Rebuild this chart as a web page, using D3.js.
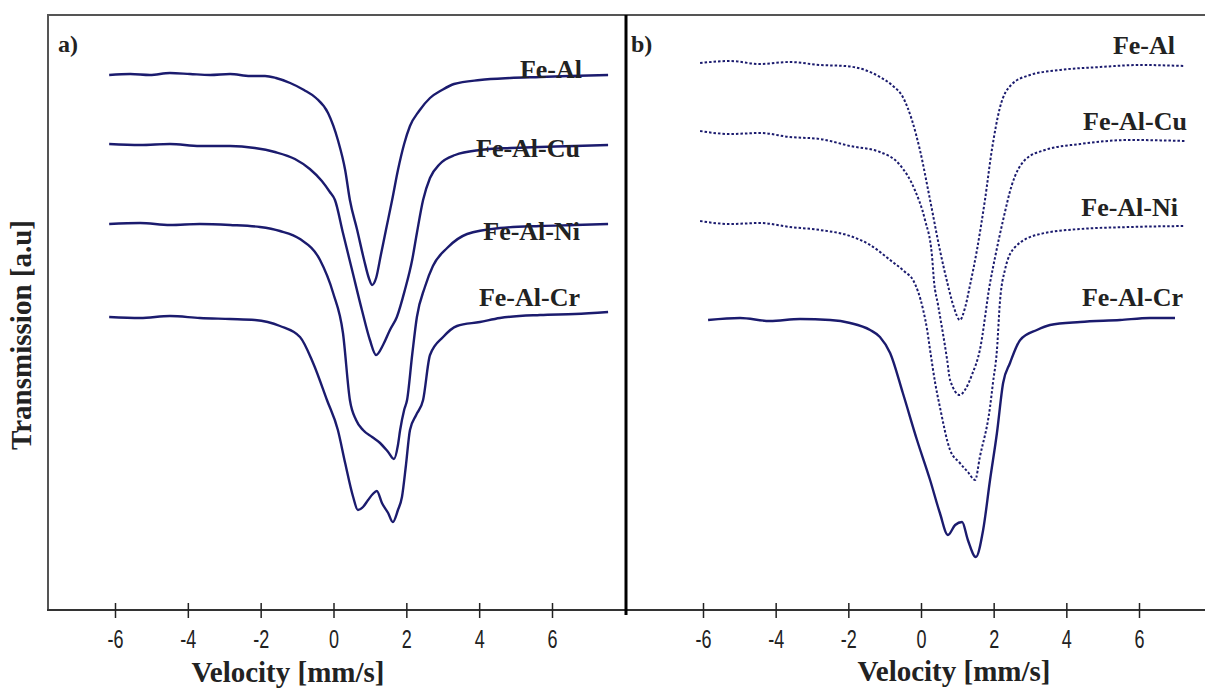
<!DOCTYPE html>
<html>
<head>
<meta charset="utf-8">
<script src="https://cdn.jsdelivr.net/npm/d3@7"></script>
<style>
  body { margin: 0; background: #fff; }
  text { font-family: "Liberation Serif", "Times New Roman", serif; }
</style>
</head>
<body>
<script>
// velocity (mm/s) / transmission (a.u.)
const tickVals = [-6, -4, -2, 0, 2, 4, 6];
const seriesNames = ["Fe-Al", "Fe-Al-Cu", "Fe-Al-Ni", "Fe-Al-Cr"];

// panel a)
const aFeAl_v = [-6.16,-5.58,-5.04,-4.49,-3.94,-3.39,-2.84,-2.29,-1.88,-1.58,-1.19,-0.81,-0.48,-0.15,0.12,0.32,0.45,0.65,0.84,0.97,1.06,1.17,1.30,1.44,1.61,1.77,1.94,2.10,2.35,2.65,2.98,3.31,4.02,4.85,5.67,6.49,7.54];
const aFeAl_t = [535,536,535,537,536,535,536,534,534,532,527,520,512,497,470,440,410,380,350,332,325,332,355,380,410,440,466,484,499,512,520,526,530,532,533,534,535];

const aFeAlCu_v = [-6.16,-5.31,-4.49,-3.67,-2.84,-2.16,-1.61,-1.06,-0.65,-0.32,-0.10,0.04,0.26,0.51,0.78,1.00,1.17,1.36,1.55,1.74,1.96,2.16,2.29,2.46,2.65,2.92,3.34,4.02,4.85,5.67,6.63,7.54];
const aFeAlCu_t = [466,465,466,464,464,462,458,451,441,429,418,410,377,340,300,270,255,265,280,293,320,350,377,410,432,446,455,460,462,463,464,465];

const aFeAlNi_v = [-6.16,-5.31,-4.49,-3.67,-2.84,-2.02,-1.47,-0.92,-0.37,-0.01,0.26,0.45,0.62,0.81,1.06,1.28,1.50,1.66,1.77,1.83,1.94,2.02,2.16,2.29,2.51,2.73,3.12,3.67,4.57,5.67,6.63,7.54];
const aFeAlNi_t = [386,387,385,386,385,383,379,371,350,317,277,210,190,180,173,167,158,151,165,180,200,210,255,293,323,344,362,376,382,384,385,386];

const aFeAlCr_v = [-6.16,-5.31,-4.49,-3.67,-2.84,-2.16,-1.47,-0.92,-0.56,-0.18,0.12,0.32,0.54,0.67,0.81,0.95,1.08,1.19,1.33,1.50,1.63,1.77,1.88,1.99,2.10,2.27,2.46,2.65,3.01,3.39,4.02,4.57,5.67,6.63,7.54];
const aFeAlCr_t = [293,292,294,292,291,290,284,273,247,210,180,147,113,100,103,110,116,119,107,97,88,100,113,145,180,195,210,255,273,284,288,292,295,296,298];

// panel b)
const bFeAl_v = [-6.08,-5.26,-4.43,-3.61,-2.78,-2.09,-1.54,-1.13,-0.77,-0.50,-0.25,-0.03,0.25,0.52,0.74,0.91,1.07,1.21,1.35,1.54,1.76,1.95,2.17,2.48,3.00,3.83,4.93,6.03,7.27];
const bFeAl_t = [547,549,546,548,545,544,540,533,524,513,490,460,410,360,325,302,290,302,325,360,410,460,502,525,535,540,543,545,544];

const bFeAlCu_v = [-6.08,-5.26,-4.43,-3.61,-2.78,-1.95,-1.13,-0.58,-0.17,0.11,0.30,0.36,0.47,0.72,0.80,1.07,1.21,1.40,1.62,1.90,2.04,2.26,2.50,2.86,3.41,4.38,5.75,7.27];
const bFeAlCu_t = [479,476,477,473,471,464,458,445,420,390,355,328,305,250,230,215,220,235,260,327,353,390,425,450,460,466,470,469];

const bFeAlNi_v = [-6.08,-5.26,-4.43,-3.61,-2.78,-1.95,-1.40,-0.85,-0.44,-0.22,0.06,0.17,0.25,0.39,0.52,0.80,1.07,1.29,1.49,1.62,1.90,1.98,2.09,2.17,2.31,2.59,3.28,4.38,5.75,7.27];
const bFeAlNi_t = [389,386,387,383,380,374,365,350,338,330,300,280,260,227,203,160,147,138,130,153,203,227,260,307,340,363,376,381,383,384];

const bFeAlCr_v = [-5.86,-4.98,-4.16,-3.33,-2.50,-1.95,-1.40,-1.13,-0.85,-0.50,-0.11,0.25,0.52,0.74,0.94,1.13,1.29,1.51,1.71,1.90,2.09,2.26,2.45,2.73,3.19,3.55,4.38,5.48,6.30,6.99];
const bFeAlCr_t = [290,292,289,291,290,287,280,273,257,217,170,130,97,75,85,88,70,53,80,130,177,227,247,270,280,285,288,290,292,292];

const W = 1205, H = 691;
const axisY = 610, topY = 15;
const curveColor = "#1b1b6e";

const svg = d3.select("body").append("svg")
  .attr("width", W).attr("height", H)
  .style("display", "block");
svg.append("rect").attr("width", W).attr("height", H).attr("fill", "#fff");

const y = d3.scaleLinear().domain([0, 595]).range([axisY, topY]);
const xA = d3.scaleLinear().domain([-6, 6]).range([115, 552]);
const xB = d3.scaleLinear().domain([-6, 6]).range([703, 1139]);

// frame
svg.append("line").attr("x1", 47).attr("x2", W).attr("y1", topY).attr("y2", topY)
  .attr("stroke", "#555").attr("stroke-width", 2);
svg.append("line").attr("x1", 48).attr("x2", 48).attr("y1", topY).attr("y2", axisY)
  .attr("stroke", "#555").attr("stroke-width", 2);
svg.append("line").attr("x1", 47).attr("x2", W).attr("y1", axisY).attr("y2", axisY)
  .attr("stroke", "#333").attr("stroke-width", 2);
svg.append("line").attr("x1", 626).attr("x2", 626).attr("y1", topY).attr("y2", axisY + 5)
  .attr("stroke", "#000").attr("stroke-width", 3);

function drawAxis(x, titleX, titleY) {
  const g = svg.append("g").attr("transform", `translate(0,${axisY})`)
    .call(d3.axisBottom(x).tickValues(tickVals).tickSize(8).tickSizeOuter(0)
      .tickFormat(d => String(d)));
  g.select(".domain").remove();
  g.selectAll(".tick line").attr("y1", -7).attr("stroke", "#222").attr("stroke-width", 1.5);
  g.selectAll(".tick text")
    .attr("y", 0).attr("dy", null)
    .attr("transform", "translate(0,38) scale(0.72,1)")
    .style("font-family", "'Liberation Sans', Arial, sans-serif")
    .style("font-size", "25px").attr("fill", "#222");
  svg.append("text").attr("x", titleX).attr("y", titleY)
    .attr("text-anchor", "middle").attr("font-weight", "bold")
    .attr("font-size", "29px").attr("fill", "#222")
    .text("Velocity [mm/s]");
}
drawAxis(xA, 288, 682);
drawAxis(xB, 954, 681);

function drawCurve(x, vs, ts, dashed) {
  const pts = vs.map((v, i) => [v, ts[i]]);
  const line = d3.line().x(d => x(d[0])).y(d => y(d[1])).curve(d3.curveMonotoneX);
  svg.append("path").datum(pts)
    .attr("d", line)
    .attr("fill", "none")
    .attr("stroke", curveColor)
    .attr("stroke-width", dashed ? 2 : 2.4)
    .attr("stroke-dasharray", dashed ? "2.5,2" : null);
}

drawCurve(xA, aFeAl_v, aFeAl_t, false);
drawCurve(xA, aFeAlCu_v, aFeAlCu_t, false);
drawCurve(xA, aFeAlNi_v, aFeAlNi_t, false);
drawCurve(xA, aFeAlCr_v, aFeAlCr_t, false);
drawCurve(xB, bFeAl_v, bFeAl_t, true);
drawCurve(xB, bFeAlCu_v, bFeAlCu_t, true);
drawCurve(xB, bFeAlNi_v, bFeAlNi_t, true);
drawCurve(xB, bFeAlCr_v, bFeAlCr_t, false);

// series labels
const labA = [[582, 78], [580, 157], [580, 240], [580, 306]];
const labB = [[1175, 54], [1187, 130], [1178, 216], [1183, 306]];
seriesNames.forEach((s, i) => {
  svg.append("text").attr("x", labA[i][0]).attr("y", labA[i][1]).attr("text-anchor", "end")
    .attr("font-weight", "bold").attr("font-size", "26px").attr("fill", "#222").text(s);
  svg.append("text").attr("x", labB[i][0]).attr("y", labB[i][1]).attr("text-anchor", "end")
    .attr("font-weight", "bold").attr("font-size", "26px").attr("fill", "#222").text(s);
});

svg.append("text").attr("x", 58).attr("y", 52).attr("font-weight", "bold")
  .attr("font-size", "24px").attr("fill", "#222").text("a)");
svg.append("text").attr("x", 631).attr("y", 52).attr("font-weight", "bold")
  .attr("font-size", "24px").attr("fill", "#222").text("b)");

svg.append("text")
  .attr("transform", "translate(31,335) rotate(-90)")
  .attr("text-anchor", "middle").attr("font-weight", "bold")
  .attr("font-size", "29px").attr("fill", "#222")
  .text("Transmission [a.u]");
</script>
</body>
</html>
